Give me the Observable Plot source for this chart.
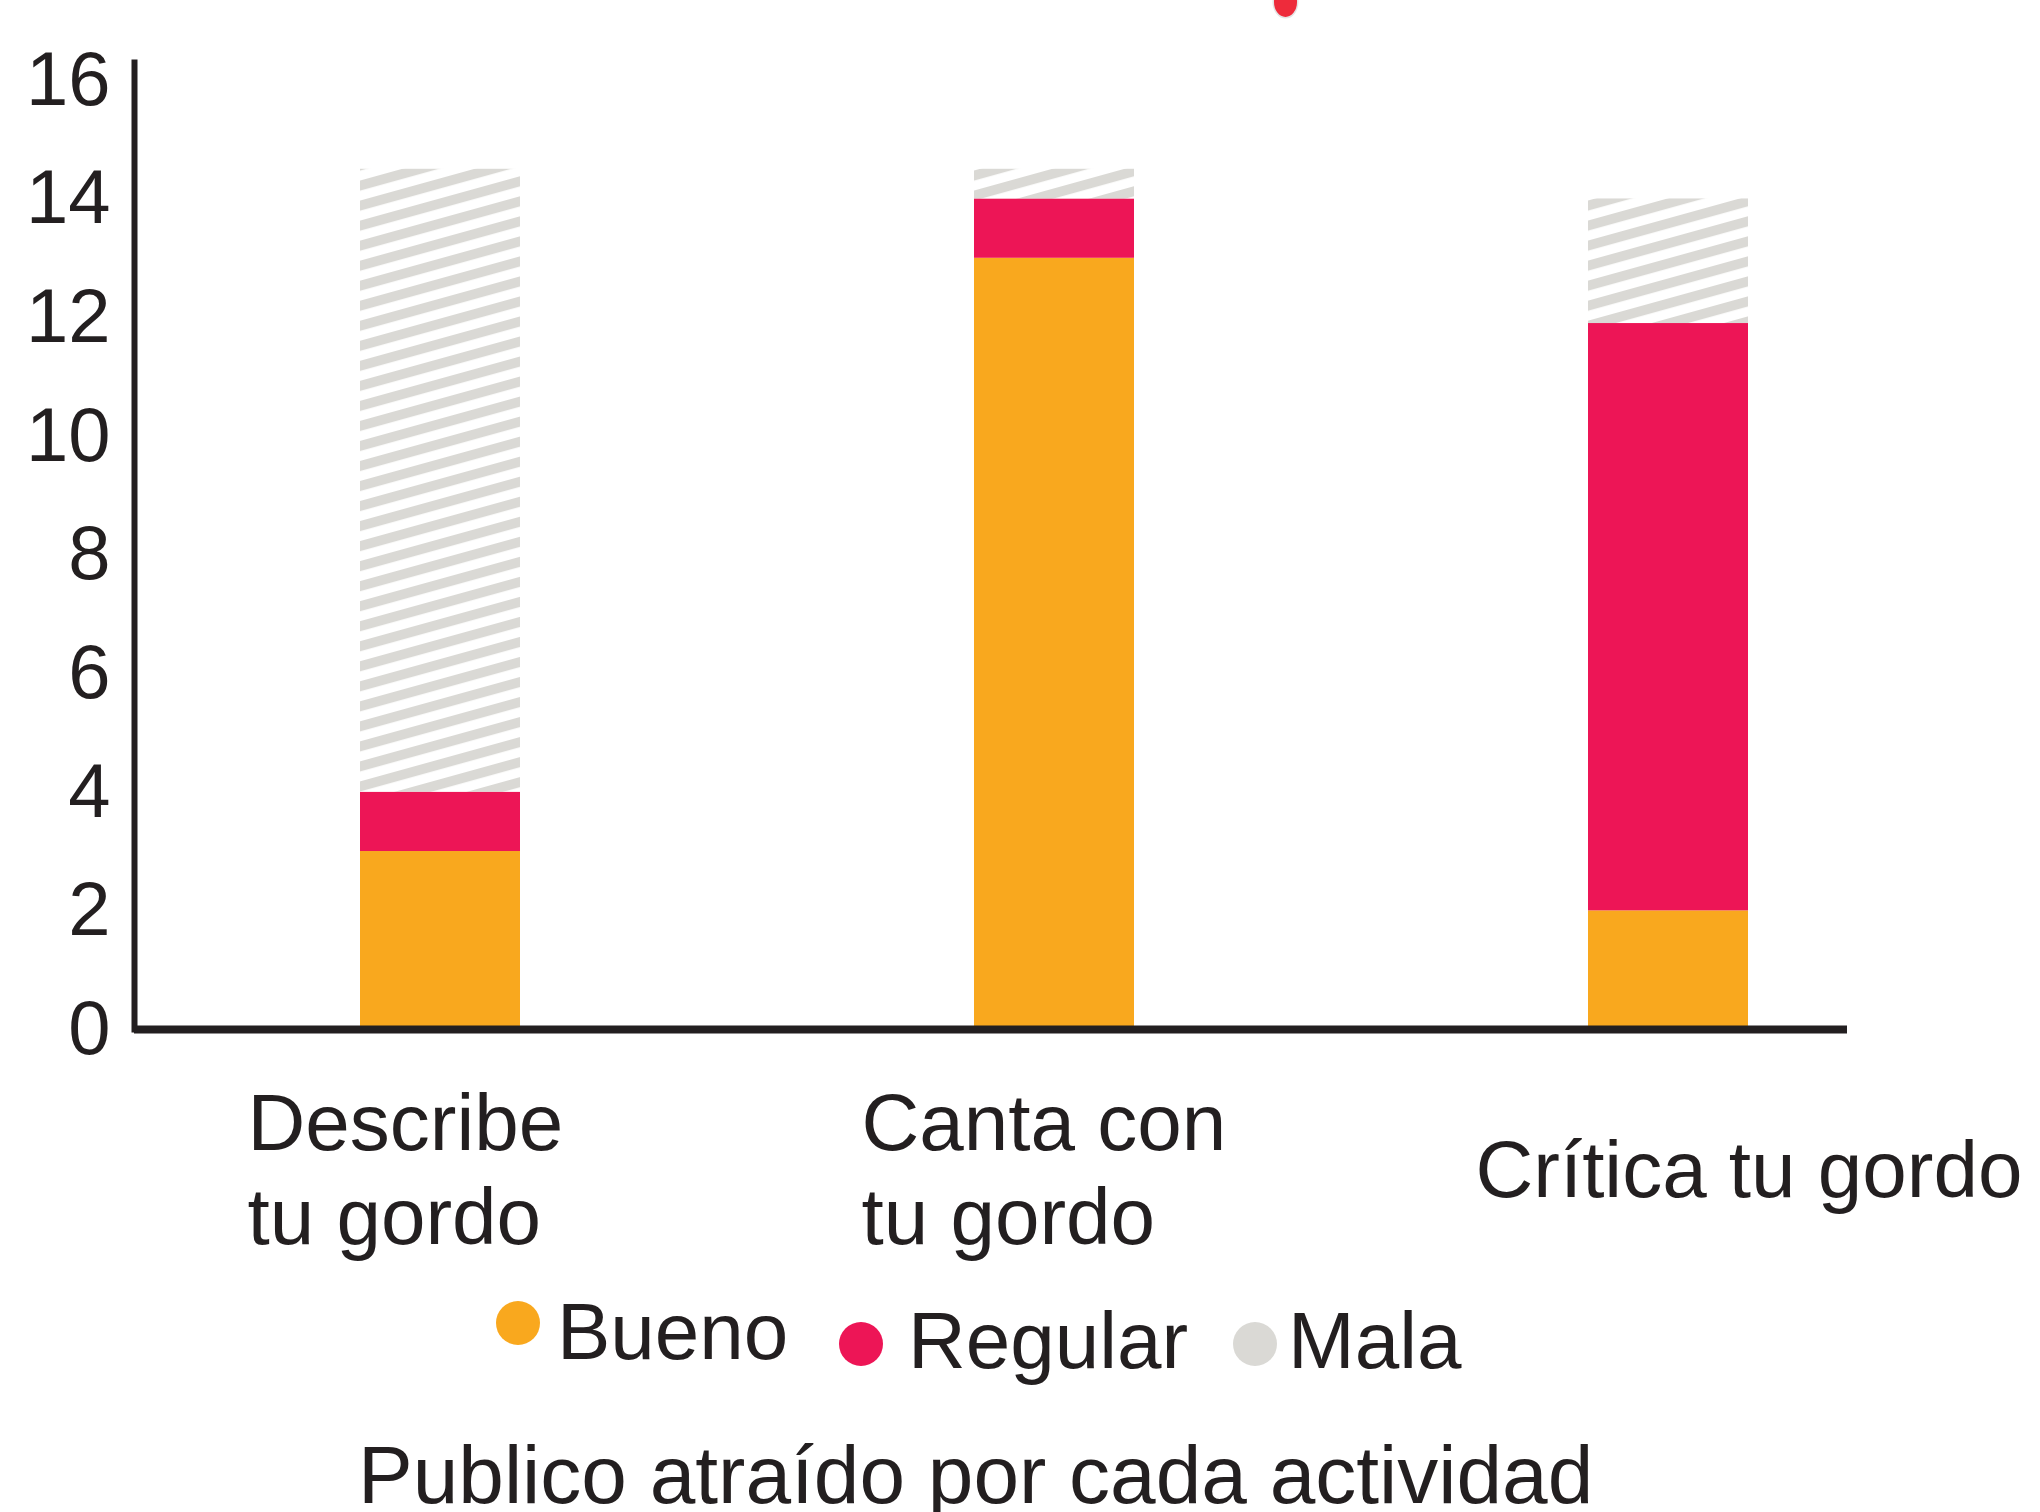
<!DOCTYPE html>
<html>
<head>
<meta charset="utf-8">
<script src="https://cdn.jsdelivr.net/npm/d3@7"></script>
<script src="https://cdn.jsdelivr.net/npm/@observablehq/plot@0.6"></script>
<style>
  html, body { margin: 0; padding: 0; background: #fff; width: 2040px; height: 1512px; overflow: hidden;
    font-family: "Liberation Sans", Arial, Helvetica, sans-serif; color: #231F20; }
  #wrap { position: relative; width: 2040px; height: 1512px; overflow: hidden; }
  #chart svg { display: block; }
  .leg-item { position: absolute; display: block; font-size: 80px; line-height: 80px; white-space: nowrap; }
  .leg-dot { position: absolute; width: 44px; height: 44px; border-radius: 50%; }
  #caption { position: absolute; left: 358px; top: 1434px; font-size: 82px; line-height: 82px; white-space: nowrap; }
  #topdot { position: absolute; left: 1274px; top: -13px; width: 23px; height: 30px; border-radius: 50%;
    background: #EE2B3B; box-shadow: 0 0 0 1.5px #e4e4e4; }
</style>
</head>
<body>
<svg width="0" height="0" style="position:absolute">
  <defs>
    <pattern id="hatch" patternUnits="userSpaceOnUse" width="40" height="19.3" patternTransform="rotate(-15.5)">
      <rect width="40" height="19.3" fill="#ffffff"></rect>
      <rect width="40" height="9.8" fill="#DAD9D5"></rect>
    </pattern>
  </defs>
</svg>
<div id="wrap">
  <div id="chart"></div>
  <div id="legend"></div>
  <div id="caption"></div>
  <div id="topdot"></div>
</div>
<script>
// ---- data ----
const categories = ["Describe\ntu gordo", "Canta con\ntu gordo", "Crítica tu gordo"];
const series = ["Bueno", "Regular", "Mala"];
const bueno = [3, 13, 2];
const regular = [1, 1, 9.9];
const mala = [10.5, 0.5, 2.1];
const yTicks = [0, 2, 4, 6, 8, 10, 12, 14, 16];
const seriesFill = ["#F9A81E", "#ED1556", "url(#hatch)"];
const legendColors = ["#F9A81E", "#ED1556", "#DAD9D5"];
const captionText = "Publico atraído por cada actividad";

// ---- table ----
const valuesBySeries = [bueno, regular, mala];
const table = [];
series.forEach((s, si) => {
  categories.forEach((c, ci) => table.push({cat: c, series: s, value: valuesBySeries[si][ci]}));
});

const ink = "#231F20";
const chart = Plot.plot({
  width: 2040,
  height: 1290,
  marginTop: 62,
  marginBottom: 261,
  marginLeft: 134,
  marginRight: 193,
  style: {fontFamily: '"Liberation Sans", Arial, Helvetica, sans-serif', fontSize: "76px", color: ink, background: "#fff"},
  x: {domain: categories, paddingInner: 0.74, paddingOuter: 0.263, align: 0.694, axis: null},
  y: {domain: [0, 16.3], axis: null},
  color: {type: "ordinal", domain: series, range: seriesFill},
  marks: [
    Plot.barY(table, {x: "cat", y: "value", fill: "series", inset: 0}),
    Plot.axisY({ticks: yTicks, tickSize: 0, tickPadding: 24, fontSize: 76, label: null, tickFormat: d => String(d)}),
    Plot.frame({anchor: "left", stroke: ink, strokeWidth: 6}),
    Plot.ruleY([0], {stroke: ink, strokeWidth: 8}),
    Plot.text(categories, {
      x: d => d, text: d => d, frameAnchor: "bottom",
      textAnchor: "start", dx: -193, dy: 137, lineAnchor: "middle", lineHeight: 1.175,
      fontSize: 80, fill: ink
    })
  ]
});
document.getElementById("chart").appendChild(chart);

// ---- legend (below the SVG) ----
const legendLayout = [
  {dotX: 496, dotY: 1301, textX: 557, textTop: 1292},
  {dotX: 839, dotY: 1322, textX: 908, textTop: 1301},
  {dotX: 1233, dotY: 1322, textX: 1288, textTop: 1301}
];
const legend = document.getElementById("legend");
series.forEach((s, i) => {
  const L = legendLayout[i];
  const dot = document.createElement("div");
  dot.className = "leg-dot";
  dot.style.left = L.dotX + "px";
  dot.style.top = L.dotY + "px";
  dot.style.background = legendColors[i];
  legend.appendChild(dot);
  const t = document.createElement("div");
  t.className = "leg-item";
  t.style.left = L.textX + "px";
  t.style.top = L.textTop + "px";
  t.textContent = s;
  legend.appendChild(t);
});
document.getElementById("caption").textContent = captionText;
</script>
</body>
</html>
